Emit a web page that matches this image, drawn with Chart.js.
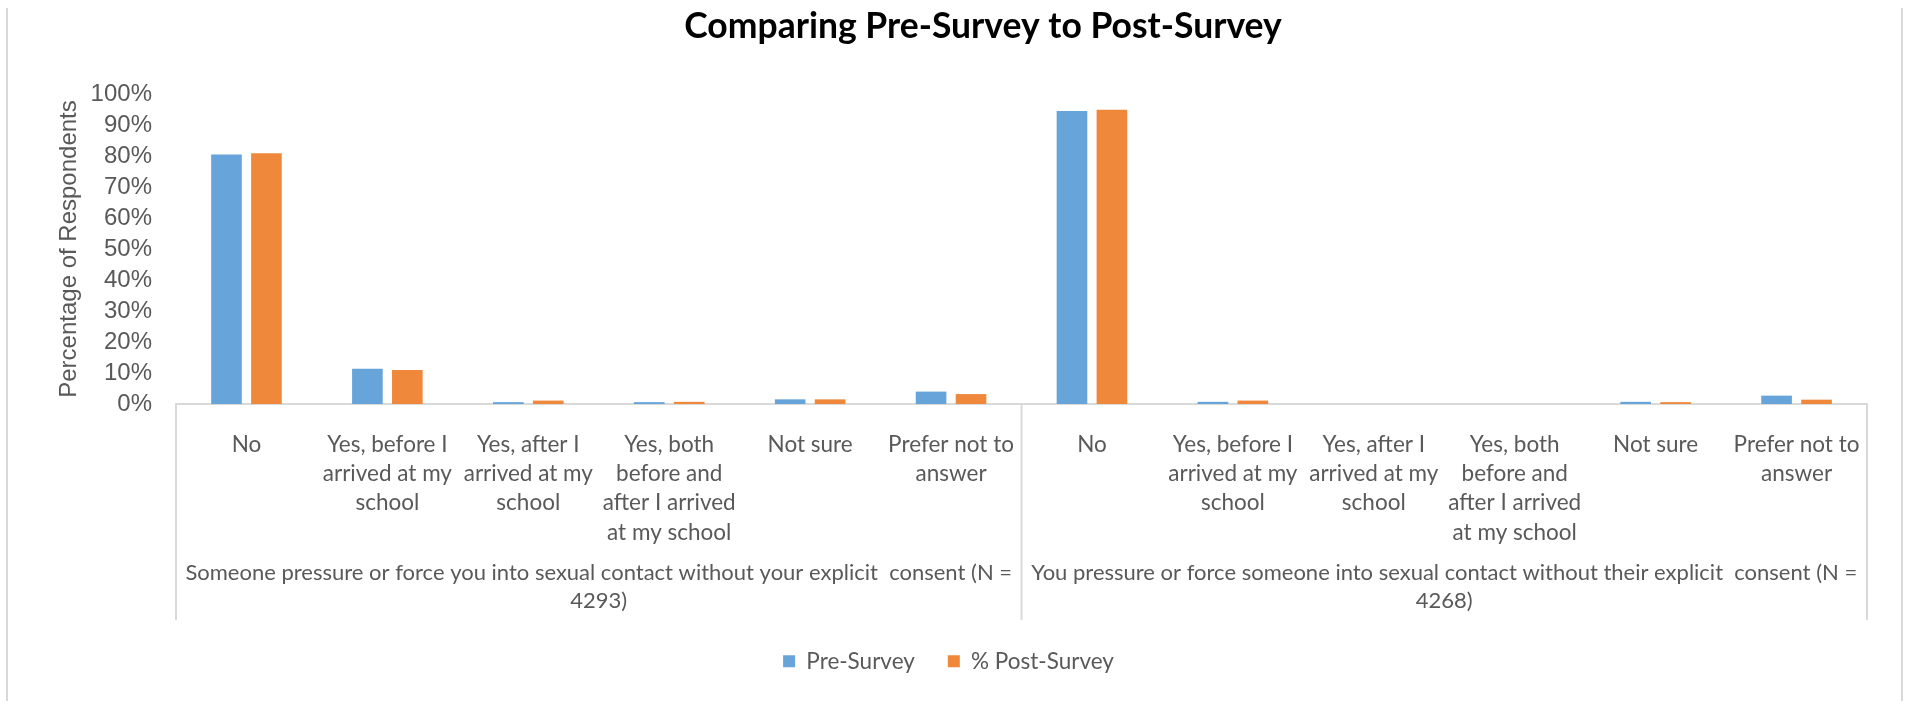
<!DOCTYPE html>
<html>
<head>
<meta charset="utf-8">
<script src="https://cdn.jsdelivr.net/npm/chart.js@4.4.1/dist/chart.umd.min.js"></script>
<style>
  body { margin: 0; background: #fff; }
  #wrap { position: relative; width: 1906px; height: 701px; }
  #frame { position: absolute; left: 6px; top: 8px; width: 1893px; height: 693px;
           border-left: 2px solid #d9d9d9; border-right: 2px solid #d9d9d9; }
  canvas { position: absolute; left: 0; top: 0; }
</style>
</head>
<body>
<div id="wrap">
  <div id="frame"></div>
  <canvas id="surveyChart" width="1906" height="701"></canvas>
</div>
<script>
const chartTitle = 'Comparing Pre-Survey to Post-Survey';

// answer options (repeated for each question)
const answerLabels = [
    ['No'],
    ['Yes, before I', 'arrived at my', 'school'],
    ['Yes, after I', 'arrived at my', 'school'],
    ['Yes, both', 'before and', 'after I arrived', 'at my school'],
    ['Not sure'],
    ['Prefer not to', 'answer']
];

// question labels under each group
const groupLabels = [
    ['Someone pressure or force you into sexual contact without your explicit  consent (N =', '4293)'],
    ['You pressure or force someone into sexual contact without their explicit  consent (N =', '4268)']
];

// percentages
const preSurvey  = [80.5, 11.4, 0.6, 0.6, 1.5, 4.0, 94.5, 0.7, 0, 0, 0.7, 2.7];
const postSurvey = [80.9, 11.0, 1.1, 0.7, 1.5, 3.2, 94.9, 1.1, 0, 0, 0.6, 1.4];

const seriesNames = ['Pre-Survey', '% Post-Survey'];

const grey = '#595959';
const lineGrey = '#d9d9d9';
const catFont = 'Lato';

// title drawn a bit right of centre, like the original
const titlePlugin = {
    id: 'titleText',
    afterDraw(chart) {
        const ctx = chart.ctx;
        ctx.save();
        ctx.fillStyle = '#000';
        ctx.font = 'bold 35.5px Lato';
        ctx.textAlign = 'center';
        ctx.textBaseline = 'middle';
        ctx.fillText(chartTitle, chart.width / 2 + 30, 27);
        ctx.restore();
    }
};

// group separators and question labels (multi-level axis)
const groupAxisPlugin = {
    id: 'groupAxis',
    afterDraw(chart) {
        const x = chart.scales.x;
        const ctx = chart.ctx;
        const n = answerLabels.length;
        const edges = [x.left, (x.getPixelForTick(n - 1) + x.getPixelForTick(n)) / 2, x.right];

        ctx.save();
        ctx.strokeStyle = lineGrey;
        ctx.lineWidth = 2;
        edges.forEach(px => {
            ctx.beginPath();
            ctx.moveTo(px, x.top);
            ctx.lineTo(px, x.top + 216);
            ctx.stroke();
        });

        ctx.fillStyle = grey;
        ctx.font = '22px ' + catFont;
        ctx.textAlign = 'center';
        ctx.textBaseline = 'middle';
        groupLabels.forEach((lines, i) => {
            const cx = (edges[i] + edges[i + 1]) / 2;
            lines.forEach((t, j) => ctx.fillText(t, cx, x.top + 169 + j * 28, edges[i + 1] - edges[i] - 6));
        });
        ctx.restore();
    }
};

const ctx = document.getElementById('surveyChart');

new Chart(ctx, {
    type: 'bar',
    data: {
        labels: answerLabels.concat(answerLabels),
        datasets: [{
            label: seriesNames[0],
            data: preSurvey,
            backgroundColor: '#67a4da'
        }, {
            label: seriesNames[1],
            data: postSurvey,
            backgroundColor: '#ef883b'
        }]
    },
    options: {
        responsive: false,
        animation: false,
        devicePixelRatio: 1,
        categoryPercentage: 0.567,
        barPercentage: 0.767,
        layout: {
            padding: { top: 94, left: 30, right: 39, bottom: 18.5 }
        },
        scales: {
            x: {
                grid: { display: false },
                border: { display: true, color: lineGrey, width: 2 },
                ticks: {
                    color: grey,
                    font: { family: catFont, size: 22.5, lineHeight: 1.3 },
                    padding: 18,
                    maxRotation: 0,
                    autoSkip: false
                },
                afterFit(scale) {
                    scale.height = 213;
                }
            },
            y: {
                min: 0,
                max: 100,
                grid: { display: false, drawTicks: false },
                border: { display: false },
                ticks: {
                    stepSize: 10,
                    autoSkip: false,
                    color: grey,
                    padding: 24,
                    font: { family: 'Liberation Sans', size: 24 },
                    callback: v => v + '%'
                },
                title: {
                    display: true,
                    text: 'Percentage of Respondents',
                    color: grey,
                    font: { family: 'Liberation Sans', size: 24 },
                    padding: { top: 25, bottom: 0 }
                },
                afterFit(scale) {
                    scale.width = 146;
                }
            }
        },
        plugins: {
            legend: {
                position: 'bottom',
                labels: {
                    boxWidth: 12,
                    boxHeight: 12,
                    padding: 33,
                    color: grey,
                    font: { family: catFont, size: 22.5 }
                }
            },
            tooltip: { enabled: false }
        }
    },
    plugins: [titlePlugin, groupAxisPlugin]
});
</script>
</body>
</html>
